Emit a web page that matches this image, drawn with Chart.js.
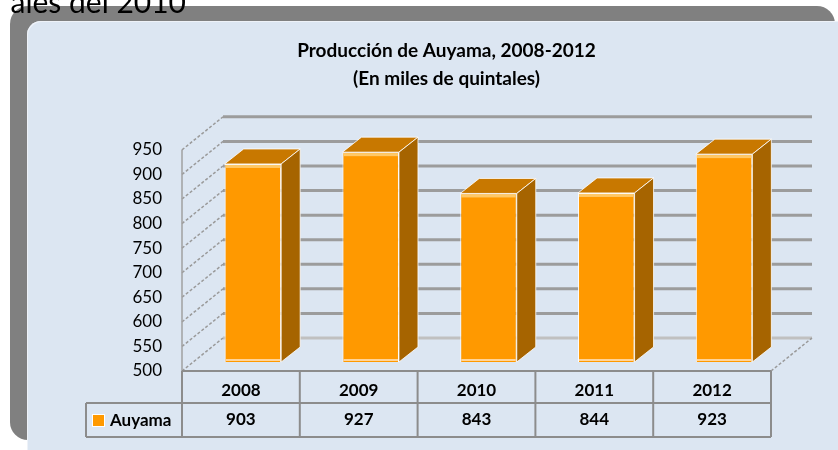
<!DOCTYPE html>
<html>
<head>
<meta charset="utf-8">
<script src="https://cdn.jsdelivr.net/npm/chart.js@4.4.0/dist/chart.umd.min.js"></script>
<style>
  html, body { margin: 0; padding: 0; background: #fff; overflow: hidden; }
  #wrap { position: relative; width: 838px; height: 450px; overflow: hidden; }
  .shadow { position: absolute; left: 10px; top: 6px; width: 825px; height: 434px; background: #808080; border-radius: 18px; }
  .card { position: absolute; left: 27px; top: 21px; width: 840px; height: 460px; background: #DCE6F2; border-radius: 14px; box-shadow: inset 1px 1px 0 #eef2f8; }
  canvas { position: absolute; left: 0; top: 0; }
</style>
</head>
<body>
<div id="wrap">
  <div class="shadow"></div>
  <div class="card"></div>
  <canvas id="chart" width="838" height="450"></canvas>
</div>
<script>
const years = ['2008', '2009', '2010', '2011', '2012'];
const auyama = [903, 927, 843, 844, 923];
const seriesName = 'Auyama';
const yMin = 500;
const yMax = 950;
const yStep = 50;
const titleLines = ['Producción de Auyama, 2008-2012', '(En miles de quintales)'];
const pageText = 'ales del 2010';

// 3D look: back wall shift, bars set halfway into the depth
const DEPTH_X = 41, DEPTH_Y = -33;
const BAR_DX = 12, BAR_DY = -9;
const BAR_DEPTH_X = 19, BAR_DEPTH_Y = -15;

const ORANGE = '#FF9900';
const ORANGE_TOP = '#C87800';
const ORANGE_SIDE = '#A66400';
const LINE_GREY = '#8c8c8c';

Chart.defaults.font.family = "Lato, 'Open Sans', sans-serif";

function line(ctx, x1, y1, x2, y2) {
    ctx.beginPath();
    ctx.moveTo(x1, y1);
    ctx.lineTo(x2, y2);
    ctx.stroke();
}

const chart3d = {
    id: 'chart3d',
    beforeDatasetsDraw(chart) {
        const { ctx, chartArea: a, scales: { y } } = chart;
        ctx.save();
        // zidovi i mreza
        ctx.lineWidth = 3;
        y.ticks.forEach((t, i) => {
            const py = y.getPixelForValue(t.value) + DEPTH_Y;
            ctx.strokeStyle = i === 0 ? '#c0c0c0' : '#9c9c9c';
            line(ctx, a.left + DEPTH_X, py, a.right + DEPTH_X, py);
        });
        ctx.strokeStyle = '#9a9a9a';
        ctx.lineWidth = 1.5;
        ctx.setLineDash([3, 2]);
        y.ticks.forEach(t => {
            const py = y.getPixelForValue(t.value);
            line(ctx, a.left, py, a.left + DEPTH_X, py + DEPTH_Y);
        });
        line(ctx, a.right, a.bottom, a.right + DEPTH_X, a.bottom + DEPTH_Y);
        ctx.setLineDash([]);
        ctx.strokeStyle = '#a0a0a0';
        line(ctx, a.left, a.top, a.left, a.bottom);
        ctx.restore();

        ctx.save();
        ctx.translate(BAR_DX, BAR_DY);
    },
    afterDatasetsDraw(chart) {
        const { ctx, scales: { y: yScale } } = chart;
        const floor = yScale.getPixelForValue(yMin);
        const meta = chart.getDatasetMeta(0);
        meta.data.forEach(bar => {
            const { x, y, width } = bar.getProps(['x', 'y', 'width'], true);
            const base = Math.min(bar.base, floor);
            const l = x - width / 2, r = x + width / 2;
            // gornja strana
            ctx.beginPath();
            ctx.moveTo(l, y);
            ctx.lineTo(l + BAR_DEPTH_X, y + BAR_DEPTH_Y);
            ctx.lineTo(r + BAR_DEPTH_X, y + BAR_DEPTH_Y);
            ctx.lineTo(r, y);
            ctx.closePath();
            ctx.fillStyle = ORANGE_TOP;
            ctx.fill();
            ctx.strokeStyle = 'rgba(255,255,255,0.8)';
            ctx.lineWidth = 1;
            ctx.stroke();
            // bocna strana
            ctx.beginPath();
            ctx.moveTo(r, y);
            ctx.lineTo(r + BAR_DEPTH_X, y + BAR_DEPTH_Y);
            ctx.lineTo(r + BAR_DEPTH_X, base + BAR_DEPTH_Y);
            ctx.lineTo(r, base);
            ctx.closePath();
            ctx.fillStyle = ORANGE_SIDE;
            ctx.fill();
            ctx.stroke();
            // svetle ivice prednje strane
            ctx.fillStyle = '#FFC866';
            ctx.fillRect(l + 1, y + 1, width - 2, 3);
            ctx.fillStyle = '#FFD499';
            ctx.fillRect(l + 1, base - 3, width - 2, 2);
        });
        ctx.restore();
    },
    afterDraw(chart) {
        const { ctx, chartArea: a } = chart;
        const colW = (a.right - a.left) / years.length;
        const rowTop = a.bottom, rowMid = a.bottom + 32, rowBot = a.bottom + 66;
        const legendLeft = 86;

        ctx.save();
        // tabela sa podacima
        ctx.strokeStyle = LINE_GREY;
        ctx.lineWidth = 2;
        line(ctx, a.left, rowTop, a.right, rowTop);
        line(ctx, legendLeft, rowMid, a.right, rowMid);
        line(ctx, legendLeft, rowBot, a.right, rowBot);
        line(ctx, legendLeft, rowMid, legendLeft, rowBot);
        for (let i = 0; i <= years.length; i++) {
            const px = a.left + i * colW;
            line(ctx, px, rowTop, px, rowBot);
        }

        ctx.fillStyle = '#000';
        ctx.font = "bold 17px Lato, 'Open Sans', sans-serif";
        ctx.textAlign = 'center';
        ctx.textBaseline = 'middle';
        years.forEach((yr, i) => {
            const cx = a.left + (i + 0.5) * colW;
            ctx.fillText(yr, cx, rowTop + 20);
            ctx.fillText(String(auyama[i]), cx, rowMid + 17);
        });

        // legenda
        ctx.fillStyle = ORANGE;
        ctx.fillRect(93, 415, 11, 11);
        ctx.strokeStyle = '#fff';
        ctx.lineWidth = 1;
        ctx.strokeRect(92.5, 414.5, 12, 12);
        ctx.fillStyle = '#000';
        ctx.textAlign = 'left';
        ctx.fillText(seriesName, 110, rowMid + 18);

        // tekst iz dokumenta iznad
        ctx.font = "30px Lato, 'Open Sans', sans-serif";
        ctx.textAlign = 'right';
        ctx.textBaseline = 'alphabetic';
        ctx.fillText(pageText, 186, 13);
        ctx.restore();
    }
};

new Chart(document.getElementById('chart'), {
    type: 'bar',
    data: {
        labels: years,
        datasets: [{
            label: seriesName,
            data: auyama,
            backgroundColor: ORANGE,
            borderColor: 'rgba(255,255,255,0.9)',
            borderWidth: 1,
            barPercentage: 0.48,
            categoryPercentage: 1
        }]
    },
    options: {
        responsive: false,
        animation: false,
        devicePixelRatio: 1,
        layout: { padding: { left: 122, right: 67, top: 20, bottom: 79 } },
        plugins: {
            legend: { display: false },
            tooltip: { enabled: false },
            title: {
                display: true,
                text: titleLines,
                color: '#000',
                font: { size: 19, weight: 'bold', lineHeight: 1.47 },
                padding: { top: 17, bottom: 57 }
            }
        },
        scales: {
            x: { display: false },
            y: {
                min: yMin,
                max: yMax,
                afterFit(s) { s.width = 60; },
                grid: { display: false, drawTicks: false },
                border: { display: false },
                ticks: { stepSize: yStep, padding: 20, color: '#000', font: { size: 17 } }
            }
        }
    },
    plugins: [chart3d]
});
</script>
</body>
</html>
